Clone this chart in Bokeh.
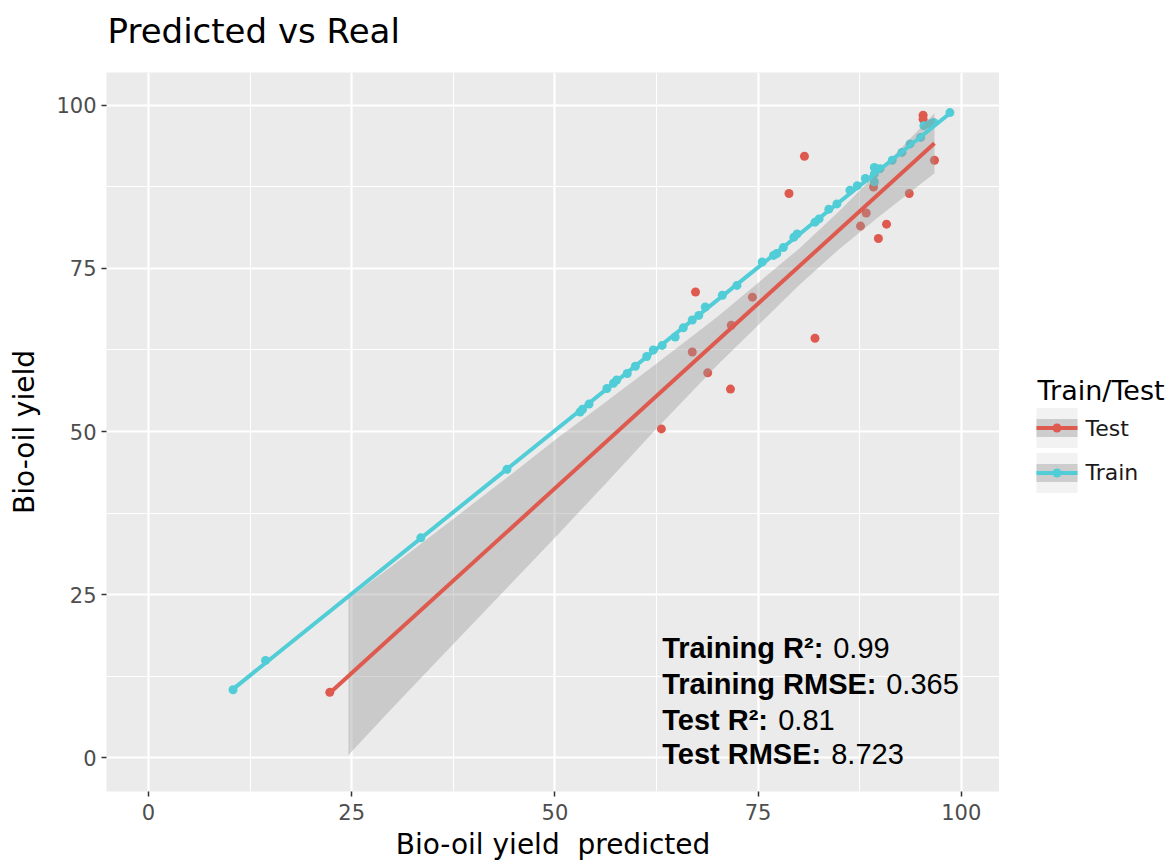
from bokeh.plotting import figure
from bokeh.layouts import row, column
from bokeh.models import Range1d, FixedTicker, ColumnDataSource
from bokeh.core.properties import value
from bokeh.embed import file_html
from bokeh.resources import INLINE

# Test set: predicted vs real bio-oil yield
test_pred = [22.3, 63.1, 66.9, 67.3, 68.8, 71.6, 71.7, 74.3, 78.8, 80.7,
             82.0, 87.6, 88.3, 89.2, 89.8, 90.8, 93.6, 95.3, 95.3, 96.7]
test_real = [10.0, 50.4, 62.2, 71.4, 59.0, 56.5, 66.3, 70.6, 86.5, 92.2,
             64.3, 81.5, 83.5, 87.5, 79.6, 81.8, 86.5, 98.5, 97.9, 91.6]

# Training set: predicted vs real bio-oil yield
train_pred = [10.4, 14.4, 33.5, 44.1, 53.1, 53.4, 54.2, 56.4, 57.2, 57.6,
              58.9, 59.9, 61.3, 62.1, 63.2, 64.8, 65.8, 66.9, 67.7, 68.5,
              70.6, 72.4, 75.5, 76.9, 77.3, 78.1, 79.4, 79.8, 82.0, 82.5,
              83.7, 84.7, 86.3, 87.2, 88.2, 89.3, 89.3, 89.3, 90.0, 91.5,
              92.7, 93.7, 95.0, 95.4, 96.2, 96.6, 98.6]
train_real = [10.4, 14.9, 33.7, 44.2, 53.0, 53.4, 54.2, 56.6, 57.4, 57.9,
              58.9, 60.0, 61.5, 62.5, 63.2, 64.5, 65.9, 67.1, 67.8, 69.1,
              70.9, 72.4, 76.0, 77.0, 77.3, 78.2, 79.8, 80.3, 82.1, 82.6,
              84.1, 84.9, 87.0, 87.7, 88.8, 90.5, 89.5, 88.3, 90.3, 91.6,
              92.8, 94.1, 95.1, 96.9, 97.2, 97.4, 98.9]

# Linear fits and their confidence bands
test_fit_x = [22.3, 96.7]
test_fit_y = [9.9, 94.2]
test_band_x = [24.6, 30, 37.5, 45, 50, 56, 62.4, 70, 80, 85, 90, 96.7]
test_band_lo = [0.4, 7.6, 17.4, 27.2, 33.7, 41.7, 50.3, 60.2, 72.4, 78.0, 83.1, 89.6]
test_band_hi = [24.4, 29.4, 36.6, 43.8, 48.7, 54.3, 60.3, 67.6, 78.0, 83.8, 90.1, 98.8]

train_fit_x = [10.4, 98.8]
train_fit_y = [10.5, 99.0]
train_band_x = [10.4, 98.8]
train_band_lo = [10.2, 98.8]
train_band_hi = [10.8, 99.2]

x_ticks = [0, 25, 50, 75, 100]
y_ticks = [0, 25, 50, 75, 100]
minor_ticks = [12.5, 37.5, 62.5, 87.5]

metric_names = ["Training R\u00b2:", "Training RMSE:", "Test R\u00b2:", "Test RMSE:"]
metric_values = ["0.99", "0.365", "0.81", "8.723"]

chart_title = "Predicted vs Real"
legend_title = "Train/Test"
legend_labels = ["Test", "Train"]

RED = "#DF5A4E"
CYAN = "#50CDD6"
BAND = "#999999"

PAGE_W, PAGE_H = 1172, 863
TITLE_H = 72
FRAME_LEFT, FRAME_RIGHT = 106, 999
FRAME_TOP, FRAME_BOTTOM = 72, 792


def bare(fig):
    fig.grid.visible = False
    fig.outline_line_color = None
    fig.background_fill_color = "white"
    fig.border_fill_color = "white"


# title strip (pixel coordinates, y growing downward)
head = figure(width=PAGE_W, height=TITLE_H,
              x_range=Range1d(FRAME_LEFT, FRAME_RIGHT), y_range=Range1d(TITLE_H, 0),
              output_backend="svg", toolbar_location=None,
              x_axis_type=None, y_axis_type=None,
              min_border_left=FRAME_LEFT, min_border_right=PAGE_W - FRAME_RIGHT,
              min_border_top=0, min_border_bottom=0)
bare(head)
head.text(x=[FRAME_LEFT + 1], y=[30], text=[chart_title], text_font=value("DejaVu Sans"),
          text_font_size="34px", text_color="black", text_baseline="middle", text_align="left")

p = figure(width=FRAME_RIGHT, height=PAGE_H - TITLE_H,
           x_range=Range1d(-5.17, 104.7), y_range=Range1d(-5.2, 105.05),
           output_backend="svg", toolbar_location=None,
           min_border_left=FRAME_LEFT, min_border_right=0,
           min_border_top=0, min_border_bottom=PAGE_H - FRAME_BOTTOM)
p.background_fill_color = "#EBEBEB"
p.border_fill_color = "white"
p.outline_line_color = None

for grid, ticks in ((p.xgrid, x_ticks), (p.ygrid, y_ticks)):
    grid.ticker = FixedTicker(ticks=ticks, minor_ticks=minor_ticks)
    grid.grid_line_color = "white"
    grid.grid_line_width = 2.2
    grid.minor_grid_line_color = "white"
    grid.minor_grid_line_width = 1.1

for axis, ticks in ((p.xaxis, x_ticks), (p.yaxis, y_ticks)):
    axis.ticker = FixedTicker(ticks=ticks)
    axis.axis_line_color = None
    axis.major_tick_line_color = "#333333"
    axis.major_tick_line_width = 1.5
    axis.major_tick_out = 5
    axis.major_tick_in = 0
    axis.minor_tick_line_color = None
    axis.major_label_text_font = "DejaVu Sans"
    axis.major_label_text_font_size = "21px"
    axis.major_label_text_color = "#4D4D4D"
    axis.axis_label_text_font = "DejaVu Sans"
    axis.axis_label_text_font_size = "28px"
    axis.axis_label_text_font_style = "normal"
    axis.axis_label_text_color = "black"

p.xaxis.axis_label = "Bio-oil yield\u00a0 predicted"
p.yaxis.axis_label = "Bio-oil yield"
p.xaxis.major_label_standoff = 7
p.xaxis.axis_label_standoff = 5
p.yaxis.major_label_standoff = 5
p.yaxis.axis_label_standoff = 12

# points
p.scatter(test_pred, test_real, size=9, color=RED, line_color=None)
p.scatter(train_pred, train_real, size=9, color=CYAN, line_color=None)

# test fit with band
p.varea(x=test_band_x, y1=test_band_lo, y2=test_band_hi, fill_color=BAND, fill_alpha=0.4)
p.line(test_fit_x, test_fit_y, line_color=RED, line_width=4)

# train fit with band
p.varea(x=train_band_x, y1=train_band_lo, y2=train_band_hi, fill_color=BAND, fill_alpha=0.4)
p.line(train_fit_x, train_fit_y, line_color=CYAN, line_width=4)

# metrics annotation
ann_x = 63.2
ann_y = [16.83, 11.33, 5.83, 0.48]
value_shift = [171, 224, 116, 169]
ann_src = ColumnDataSource(dict(x=[ann_x] * 4, y=ann_y, name=metric_names,
                                val=metric_values, dx=value_shift))
p.text(x="x", y="y", text="name", source=ann_src, text_font=value("Liberation Sans"),
       text_font_style="bold", text_font_size="29px", text_color="black",
       text_baseline="alphabetic", text_align="left")
p.text(x="x", y="y", text="val", source=ann_src, x_offset="dx", text_font=value("Liberation Sans"),
       text_font_style="normal", text_font_size="29px", text_color="black",
       text_baseline="alphabetic", text_align="left")

# legend panel; its frame is aligned with the main frame, so the y range
# maps straight onto page pixels (growing downward)
leg = figure(width=PAGE_W - FRAME_RIGHT, height=PAGE_H - TITLE_H, x_range=Range1d(FRAME_RIGHT, PAGE_W),
             y_range=Range1d(FRAME_BOTTOM, FRAME_TOP),
             output_backend="svg", toolbar_location=None,
             x_axis_type=None, y_axis_type=None,
             min_border_left=0, min_border_right=0,
             min_border_top=0, min_border_bottom=PAGE_H - FRAME_BOTTOM)
bare(leg)

leg.text(x=[1037], y=[390], text=[legend_title], text_font=value("DejaVu Sans"),
         text_font_size="27px", text_color="black", text_baseline="middle", text_align="left")

key_left, key_right, key_tops = 1036, 1077, [408, 453]
for top, color, label in zip(key_tops, (RED, CYAN), legend_labels):
    mid = top + 20
    leg.quad(left=[key_left], right=[key_right], top=[top], bottom=[top + 40],
             fill_color="#F2F2F2", line_color=None)
    leg.quad(left=[key_left], right=[key_right], top=[mid - 9], bottom=[mid + 9],
             fill_color="#CDCDCD", line_color=None)
    leg.line(x=[key_left, key_right], y=[mid, mid], line_color=color, line_width=4)
    leg.scatter(x=[(key_left + key_right) / 2], y=[mid], size=9, color=color, line_color=None)
    leg.text(x=[1085], y=[mid], text=[label], text_font=value("DejaVu Sans"),
             text_font_size="22px", text_color="#1A1A1A", text_baseline="middle", text_align="left")

layout = column(head, row(p, leg, spacing=0), spacing=0)
open("out.html", "w").write(file_html(layout, INLINE))
